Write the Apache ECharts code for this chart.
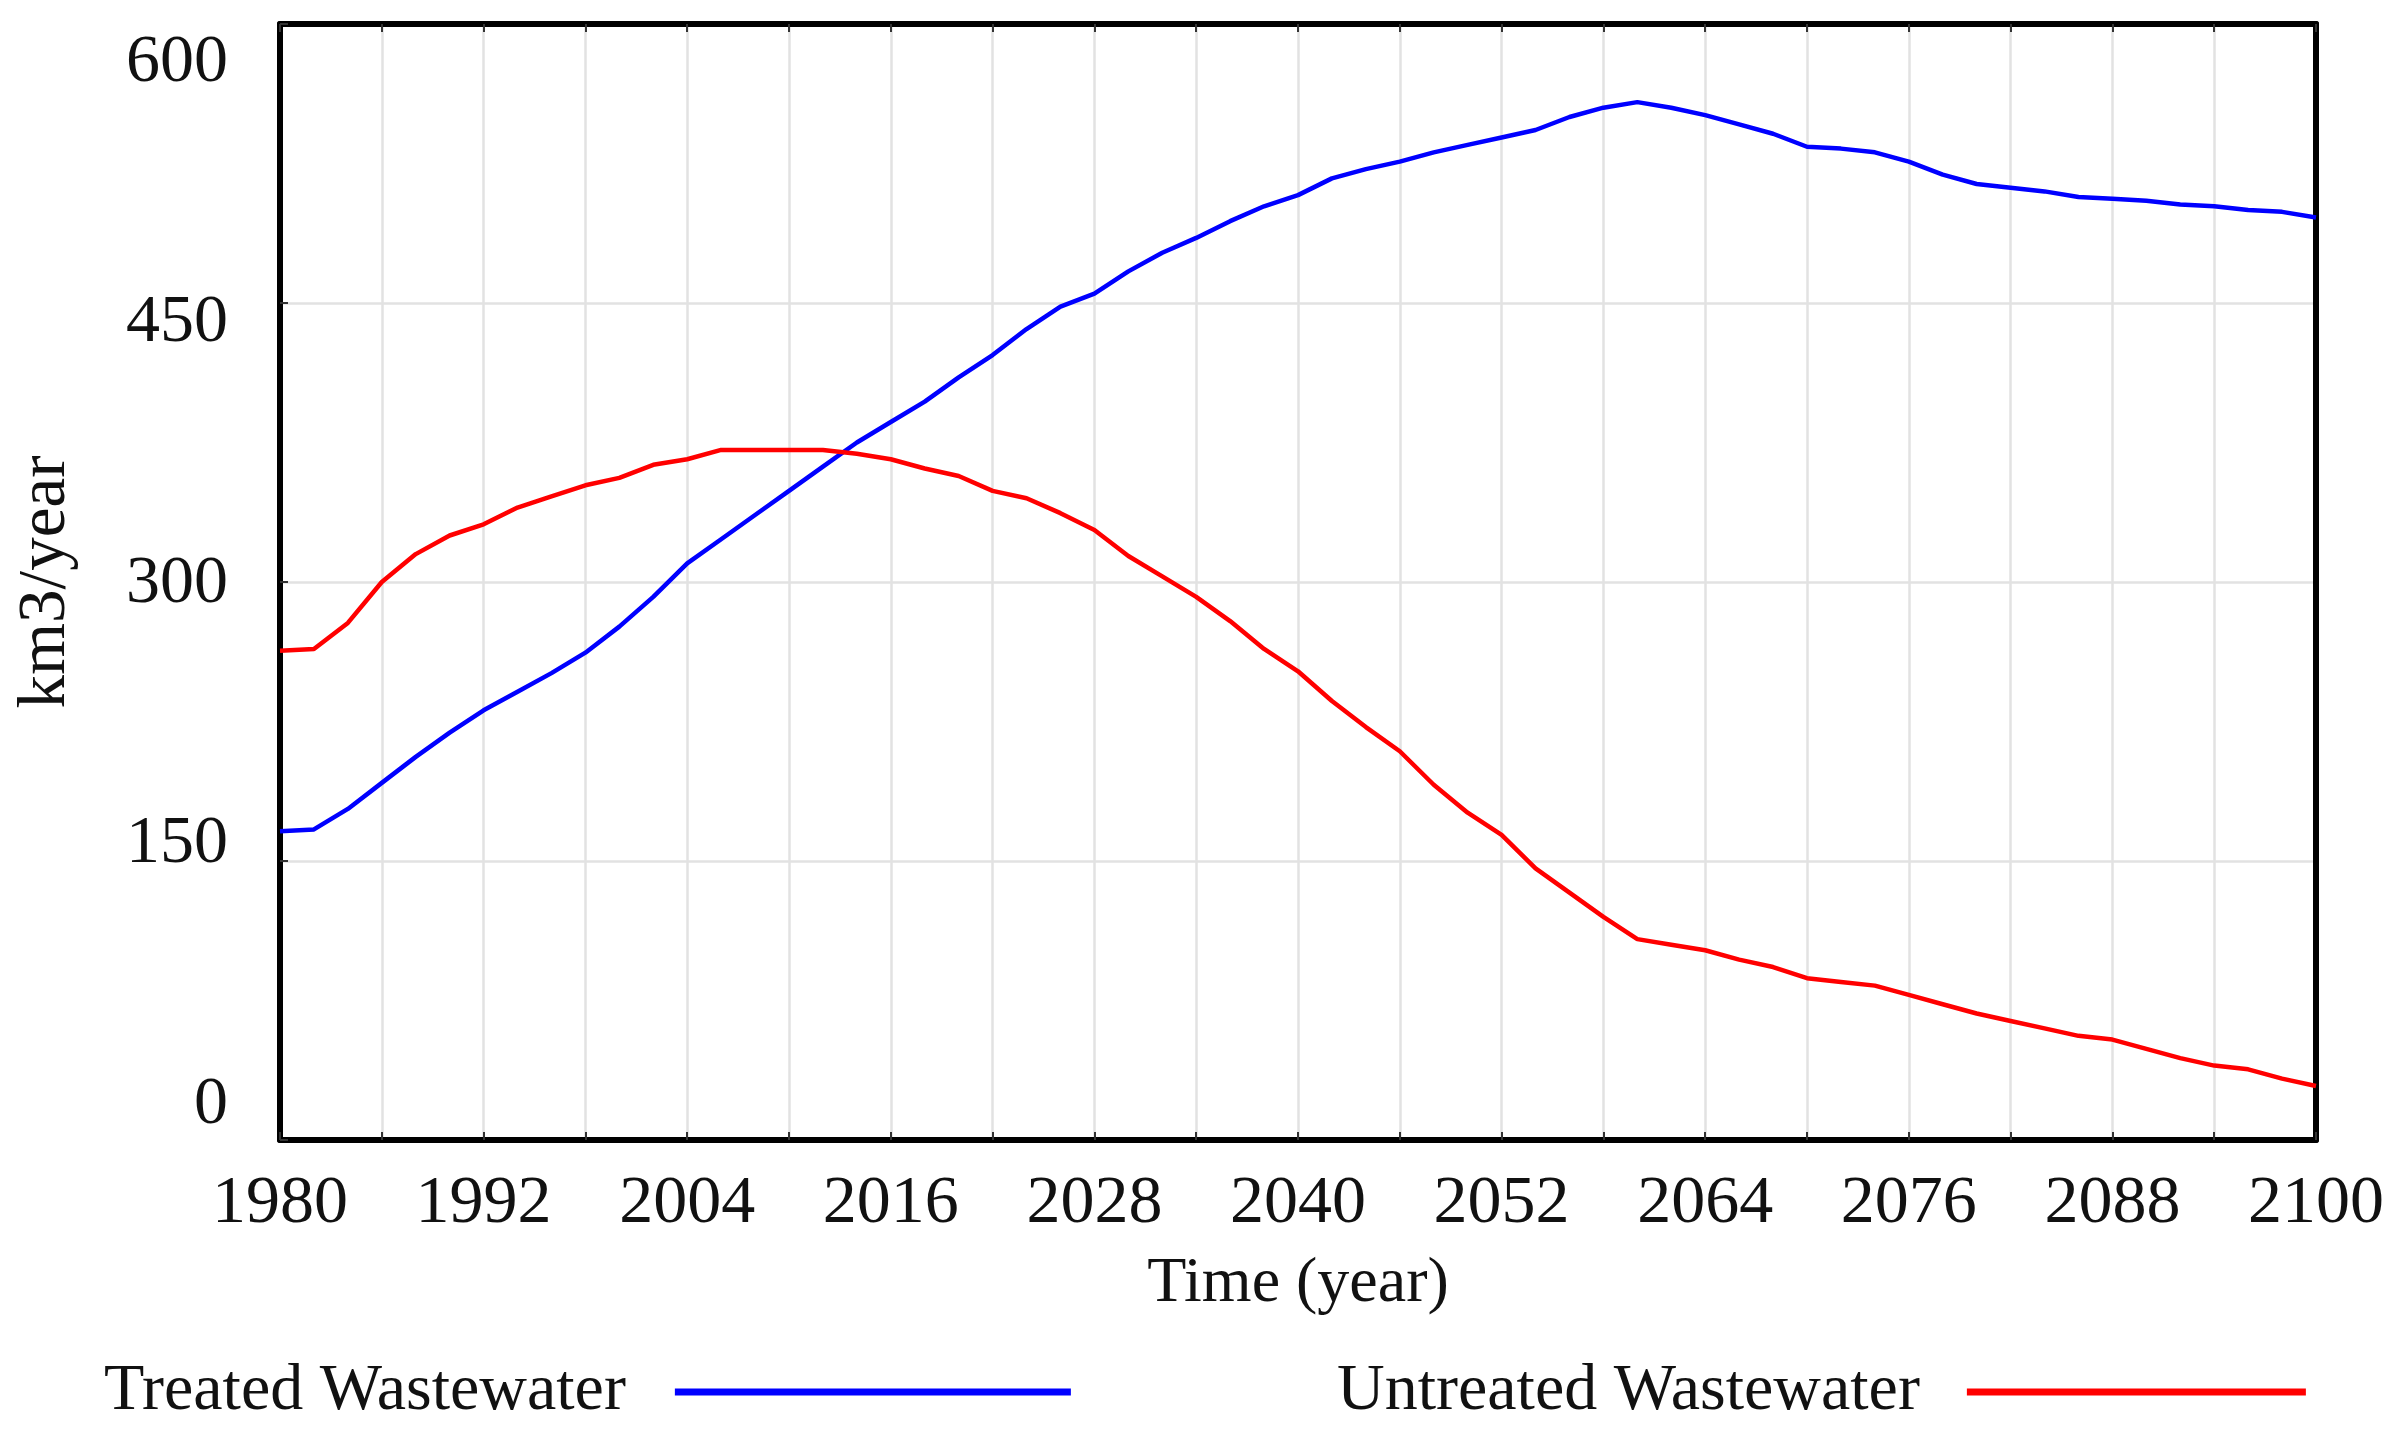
<!DOCTYPE html>
<html>
<head>
<meta charset="utf-8">
<title>Treated / Untreated Wastewater</title>
<script src="https://cdn.jsdelivr.net/npm/echarts/dist/echarts.min.js"></script>
<style>
  html, body { margin: 0; padding: 0; background: #ffffff; }
  #main { width: 2396px; height: 1432px; }
</style>
</head>
<body>
<div id="main"></div>
<script>
  // values, every 2 years
  const years = [
    1980, 1982, 1984, 1986, 1988, 1990, 1992, 1994, 1996, 1998,
    2000, 2002, 2004, 2006, 2008, 2010, 2012, 2014, 2016, 2018,
    2020, 2022, 2024, 2026, 2028, 2030, 2032, 2034, 2036, 2038,
    2040, 2042, 2044, 2046, 2048, 2050, 2052, 2054, 2056, 2058,
    2060, 2062, 2064, 2066, 2068, 2070, 2072, 2074, 2076, 2078,
    2080, 2082, 2084, 2086, 2088, 2090, 2092, 2094, 2096, 2098, 2100
  ];
  const treated = [
    166, 167, 178, 192, 206, 219, 231, 241, 251, 262,
    276, 292, 310, 323, 336, 349, 362, 375, 386, 397,
    410, 422, 436, 448, 455, 467, 477, 485, 494, 502,
    508, 517, 522, 526, 531, 535, 539, 543, 550, 555,
    558, 555, 551, 546, 541, 534, 533, 531, 526, 519,
    514, 512, 510, 507, 506, 505, 503, 502, 500, 499, 496
  ];
  const untreated = [
    263, 264, 278, 300, 315, 325, 331, 340, 346, 352,
    356, 363, 366, 371, 371, 371, 371, 369, 366, 361,
    357, 349, 345, 337, 328, 314, 303, 292, 279, 264,
    252, 236, 222, 209, 191, 176, 164, 146, 133, 120,
    108, 105, 102, 97, 93, 87, 85, 83, 78, 73,
    68, 64, 60, 56, 54, 49, 44, 40, 38, 33, 29
  ];
  const yTicks = [0, 150, 300, 450, 600];
  const seriesNames = ['Treated Wastewater', 'Untreated Wastewater'];

  const font = 'Liberation Serif';
  const txt = '#111111';
  const frame = { color: '#000000', width: 6 };
  const gridLine = { color: '#e2e2e2', width: 2.5 };
  const tickStyle = { color: '#333', width: 2 };

  function pairs(vals) {
    return years.map(function (y, i) { return [y, vals[i]]; });
  }

  // y labels in the original are spread evenly inside the frame, not on the grid lines
  let yRich = {};
  yTicks.forEach(function (v, i) {
    let shift = 35 - 18.5 * i;   // + is down
    yRich['p' + v] = {
      fontFamily: font,
      fontSize: 68,
      color: txt,
      padding: shift > 0 ? [0, 0, shift * 2, 0] : [-shift * 2, 0, 0, 0]
    };
  });

  let chart = echarts.init(document.getElementById('main'));
  let option = {
    backgroundColor: '#ffffff',
    animation: false,
    grid: {
      left: 280,
      top: 24,
      width: 2036,
      height: 1116,
      outerBoundsMode: 'none',
      containLabel: false
    },
    legend: [{
      data: [seriesNames[0]],
      left: 99,
      top: 1354,
      align: 'right',
      icon: 'rect',
      itemWidth: 396,
      itemHeight: 7,
      textStyle: { fontFamily: font, fontSize: 66, color: txt, padding: [0, 44, 0, 0] }
    }, {
      data: [seriesNames[1]],
      left: 1332,
      top: 1354,
      align: 'right',
      icon: 'rect',
      itemWidth: 339,
      itemHeight: 7,
      textStyle: { fontFamily: font, fontSize: 66, color: txt, padding: [0, 42, 0, 0] }
    }],
    xAxis: [{
      type: 'value',
      position: 'bottom',
      min: 1980,
      max: 2100,
      interval: 6,
      name: 'Time (year)',
      nameLocation: 'middle',
      nameGap: 112,
      nameTextStyle: { fontFamily: font, fontSize: 64, color: txt },
      axisLine: { show: true, onZero: false, lineStyle: frame },
      axisTick: { show: true, inside: true, length: 8, lineStyle: tickStyle },
      axisLabel: {
        margin: 30,
        fontFamily: font,
        fontSize: 68,
        color: txt,
        showMaxLabel: true,
        formatter: function (v) { return (v - 1980) % 12 === 0 ? String(v) : ''; }
      },
      splitLine: { show: true, lineStyle: gridLine }
    }, {
      // top edge of the frame, ticks only
      type: 'value',
      position: 'top',
      min: 1980,
      max: 2100,
      interval: 6,
      axisLine: { show: true, onZero: false, lineStyle: frame },
      axisTick: { show: true, inside: true, length: 8, lineStyle: tickStyle },
      axisLabel: { show: false },
      splitLine: { show: false }
    }],
    yAxis: [{
      type: 'value',
      position: 'left',
      min: 0,
      max: 600,
      interval: 150,
      name: 'km3/year',
      nameLocation: 'middle',
      nameGap: 200,
      nameTextStyle: { fontFamily: font, fontSize: 67, color: txt },
      axisLine: { show: true, onZero: false, lineStyle: frame },
      axisTick: { show: true, inside: true, length: 8, lineStyle: tickStyle },
      axisLabel: {
        margin: 52,
        formatter: function (v) { return '{p' + v + '|' + v + '}'; },
        rich: yRich
      },
      splitLine: { show: true, lineStyle: gridLine }
    }, {
      // right edge of the frame
      type: 'value',
      position: 'right',
      min: 0,
      max: 600,
      interval: 150,
      axisLine: { show: true, onZero: false, lineStyle: frame },
      axisTick: { show: false },
      axisLabel: { show: false },
      splitLine: { show: false }
    }],
    series: [{
      name: seriesNames[0],
      type: 'line',
      data: pairs(treated),
      showSymbol: false,
      color: '#0000ff',
      lineStyle: { width: 4.5, color: '#0000ff' }
    }, {
      name: seriesNames[1],
      type: 'line',
      data: pairs(untreated),
      showSymbol: false,
      color: '#ff0000',
      lineStyle: { width: 4.5, color: '#ff0000' }
    }]
  };
  chart.setOption(option);
</script>
</body>
</html>
